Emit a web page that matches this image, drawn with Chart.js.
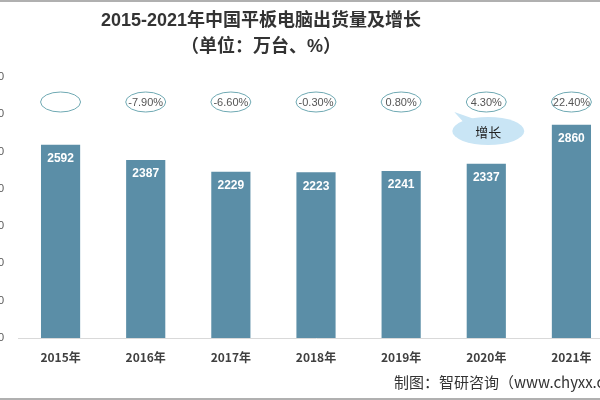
<!DOCTYPE html>
<html><head><meta charset="utf-8">
<script src="https://cdn.jsdelivr.net/npm/chart.js@4"></script>
<style>
html,body{margin:0;padding:0;width:600px;height:400px;overflow:hidden;background:#fff;position:relative}
#wrap{position:absolute;left:-22px;top:0;width:640px;height:400px}
.t{position:absolute;left:0;width:522px;text-align:center;font-family:"Liberation Sans","Noto Sans CJK SC",sans-serif;font-weight:bold;color:#333;font-size:18px;line-height:22px}
#t1{top:9px}
#t2{top:35px}
#src{position:absolute;left:394px;top:372px;font-family:"Noto Sans CJK SC",sans-serif;font-size:15px;line-height:20px;color:#333;white-space:nowrap}
.edge{position:absolute;left:0;width:600px;height:2px;background:#b0b0b0}
</style></head>
<body>
<div class="edge" style="top:0"></div>
<div id="wrap"><canvas id="c" width="640" height="400"></canvas></div>
<div class="t" id="t1">2015-2021年中国平板电脑出货量及增长</div>
<div class="t" id="t2">（单位：万台、%）</div>
<div id="src">制图：智研咨询（www.chyxx.com）</div>
<div class="edge" style="top:398px"></div>
<script>
const categories = ['2015年','2016年','2017年','2018年','2019年','2020年','2021年'];
const shipments = [2592, 2387, 2229, 2223, 2241, 2337, 2860];
const growthLabels = ['', '-7.90%', '-6.60%', '-0.30%', '0.80%', '4.30%', '22.40%'];
const yTickValues = [0, 500, 1000, 1500, 2000, 2500, 3000, 3500];
const calloutText = '增长';
const calloutIndex = 5;

const overlay = {
  id: 'overlay',
  afterDatasetsDraw(chart) {
    const ctx = chart.ctx;
    const meta = chart.getDatasetMeta(0);
    const xs = chart.scales.x;
    ctx.save();
    ctx.fillStyle = '#ffffff';
    ctx.font = 'bold 12px "Liberation Sans", sans-serif';
    ctx.textAlign = 'center';
    ctx.textBaseline = 'middle';
    meta.data.forEach((bar, i) => {
      ctx.fillText(String(shipments[i]), bar.x, bar.y + 14);
    });
    const ey = 102;
    growthLabels.forEach((g, i) => {
      const x = xs.getPixelForValue(i);
      ctx.beginPath();
      ctx.ellipse(x, ey, 20, 10, 0, 0, Math.PI * 2);
      ctx.strokeStyle = '#6fa9b3';
      ctx.lineWidth = 1;
      ctx.stroke();
      if (g) {
        ctx.fillStyle = '#555';
        ctx.font = '11px "Liberation Sans", sans-serif';
        ctx.fillText(g, x, ey + 1);
      }
    });
    const cx = xs.getPixelForValue(calloutIndex) + 2;
    const cy = 131;
    ctx.beginPath();
    ctx.fillStyle = '#c9e5f5';
    ctx.ellipse(cx, cy, 36, 14, 0, 0, Math.PI * 2);
    ctx.fill();
    ctx.beginPath();
    ctx.moveTo(cx - 24, cy - 8);
    ctx.lineTo(cx - 34, cy - 19);
    ctx.lineTo(cx - 14, cy - 12);
    ctx.closePath();
    ctx.fill();
    ctx.fillStyle = '#222';
    ctx.font = '13px "Noto Sans CJK SC", sans-serif';
    ctx.fillText(calloutText, cx, cy + 1);
    ctx.restore();
  }
};

new Chart(document.getElementById('c'), {
  type: 'bar',
  data: {
    labels: categories,
    datasets: [{
      data: shipments,
      backgroundColor: '#5b8ea7',
      categoryPercentage: 1,
      barPercentage: 0.46
    }]
  },
  options: {
    responsive: false,
    animation: false,
    devicePixelRatio: 1,
    layout: { padding: { top: 77, right: 4, bottom: 32, left: 0 } },
    plugins: { legend: { display: false }, tooltip: { enabled: false } },
    scales: {
      x: {
        grid: { display: false, drawTicks: false },
        border: { display: true, color: '#d9d9d9' },
        ticks: { color: '#404040', padding: 12, font: { size: 12, weight: 'bold', family: '"Noto Sans CJK SC", sans-serif' } },
        afterFit(axis) { axis.height = 30; }
      },
      y: {
        min: 0, max: 3500,
        afterBuildTicks(axis) { axis.ticks = yTickValues.map(v => ({ value: v })); },
        grid: { display: false, drawTicks: false },
        border: { display: false },
        ticks: { color: '#595959', padding: 14, font: { size: 11, family: '"Liberation Sans", sans-serif' } },
        afterFit(axis) { axis.width = 40; }
      }
    }
  },
  plugins: [overlay]
});
</script>
</body></html>
